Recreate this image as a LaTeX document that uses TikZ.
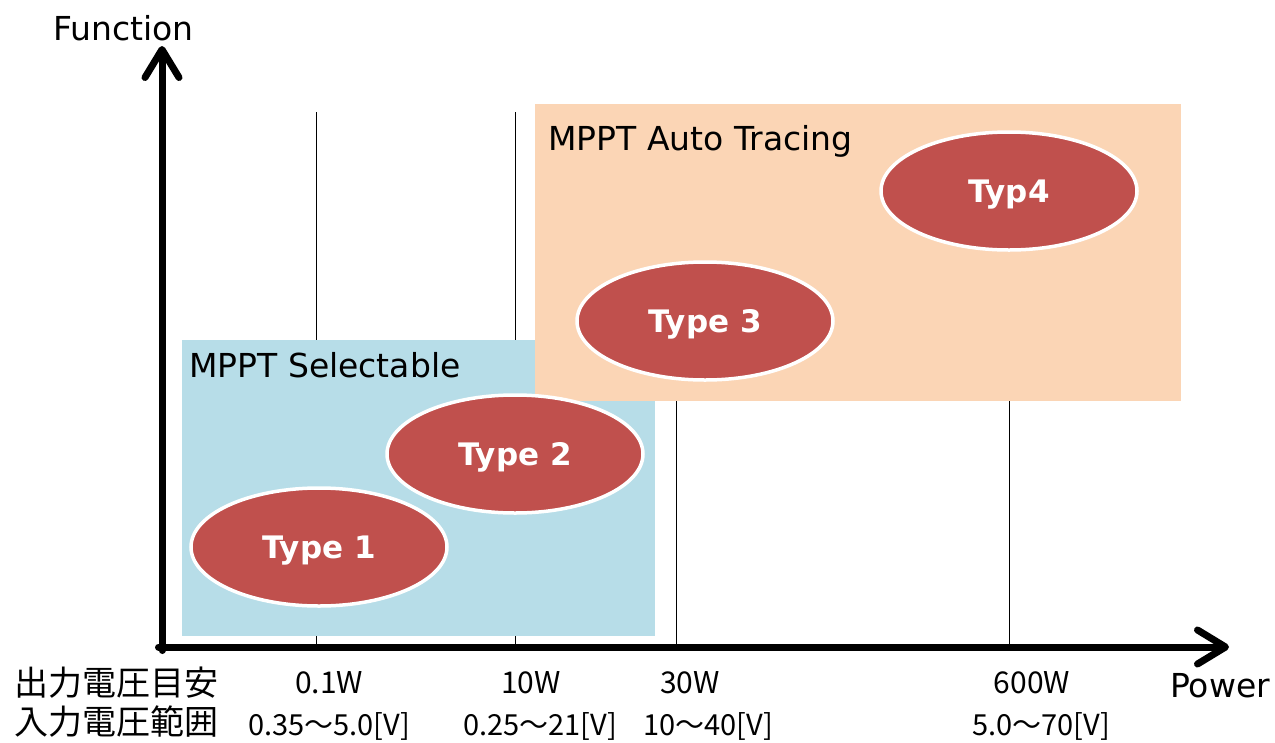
\documentclass[tikz,border=0pt]{standalone}
\usepackage{fontspec}
\setmainfont{DejaVu Sans}
\newfontfamily\cjk{Noto Sans CJK JP}
\usetikzlibrary{arrows.meta,shapes.geometric}
\definecolor{bluebg}{HTML}{B7DDE8}
\definecolor{orangebg}{HTML}{FBD5B5}
\definecolor{typered}{HTML}{C0504D}
\begin{document}
\begin{tikzpicture}[x=1pt,y=-1pt,
  axis/.style={line width=7pt, line cap=round, -{Straight Barb[length=28pt,width=34pt,round]}},
  gridline/.style={line width=1pt, black},
  typeell/.style={ellipse, fill=typered, draw=white, line width=3.5pt, minimum width=256pt, minimum height=118pt, inner sep=0pt, text=white, font=\fontsize{31}{36}\selectfont\bfseries, text height=23pt, text depth=0pt},
  lbl/.style={font=\fontsize{33}{40}\selectfont, inner sep=0pt},
  jlbl/.style={font=\cjk\fontsize{34}{40}\selectfont, inner sep=0pt},
  wlbl/.style={font=\cjk\fontsize{30}{36}\selectfont, inner sep=0pt, anchor=base},
  vlbl/.style={font=\cjk\fontsize{29}{34}\selectfont, inner sep=0pt, anchor=base}
]
\useasboundingbox (0,0) rectangle (1275,742);
% grid lines
\coordinate (g1t) at (316,112); \coordinate (g1b) at (316,645);
\coordinate (g2t) at (515,112); \coordinate (g2b) at (515,645);
\coordinate (g3t) at (676,112); \coordinate (g3b) at (676,645);
\coordinate (g4t) at (1009,112); \coordinate (g4b) at (1009,645);
\draw[gridline] (g1t) -- (g1b);
\draw[gridline] (g2t) -- (g2b);
\draw[gridline] (g3t) -- (g3b);
\draw[gridline] (g4t) -- (g4b);
% regions
\fill[bluebg] (182,340) rectangle (655,636);
\fill[orangebg] (535,104) rectangle (1181,401);
\node[lbl, anchor=base west] (sel) at (189,377) {MPPT Selectable};
\node[lbl, anchor=base west] (auto) at (548,150) {MPPT Auto Tracing};
% ellipses
\node[typeell] (t1) at (319,547) {Type 1};
\node[typeell] (t2) at (515,454) {Type 2};
\node[typeell] (t3) at (705,321) {Type 3};
\node[typeell] (t4) at (1009,191) {Typ4};
% axes
\coordinate (ybot) at (162,650.5);
\coordinate (ytip) at (162,46);
\coordinate (xleft) at (158.5,647);
\coordinate (xtip) at (1229,647);
\draw[axis] (ybot) -- (ytip);
\draw[axis] (xleft) -- (xtip);
\node[lbl, anchor=base west] (fn) at (53,40) {Function};
\node[lbl, anchor=base west] (pw) at (1170,697) {Power};
% bottom labels
\node[jlbl, anchor=base west] (r1) at (14,695) {出力電圧目安};
\node[jlbl, anchor=base west] (r2) at (14,734) {入力電圧範囲};
\node[wlbl] (w1) at (329,693) {0.1W};
\node[wlbl] (w2) at (531,693) {10W};
\node[wlbl] (w3) at (690,693) {30W};
\node[wlbl] (w4) at (1032,693) {600W};
\node[vlbl] (v1) at (329,735) {0.35～5.0[V]};
\node[vlbl] (v2) at (540,735) {0.25～21[V]};
\node[vlbl] (v3) at (708,735) {10～40[V]};
\node[vlbl] (v4) at (1041,735) {5.0～70[V]};
\end{tikzpicture}
\end{document}
